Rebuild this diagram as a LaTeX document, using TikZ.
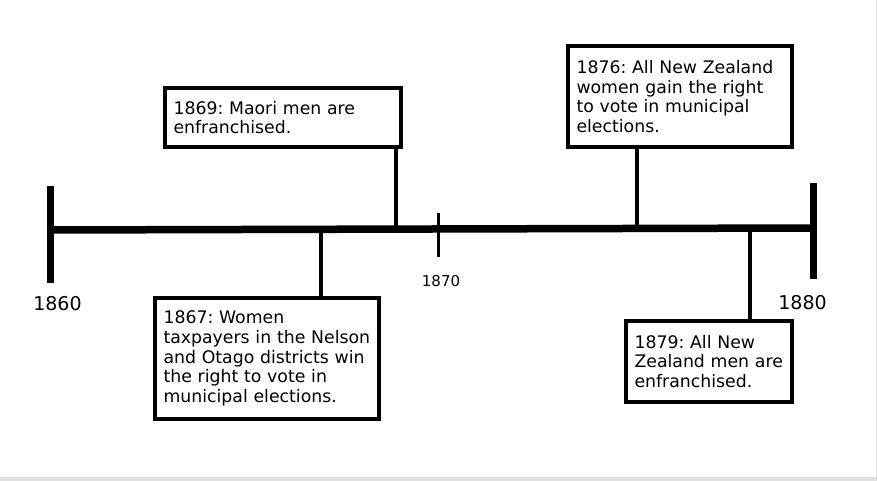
\documentclass[tikz,border=0pt]{standalone}
\usepackage{fontspec}
\setmainfont{DejaVu Sans}
\frenchspacing
\begin{document}
\begin{tikzpicture}[x=1pt,y=-1pt,
  eventbox/.style={draw, line width=3.3pt, inner xsep=8.5pt, inner ysep=0pt,
    align=left, font=\fontsize{17.3}{19.7}\selectfont, anchor=center},
  conn/.style={line width=3.5pt},
  yearlab/.style={font=\fontsize{19}{21}\selectfont, inner sep=0pt},
  smalllab/.style={font=\fontsize{15}{17}\selectfont, inner sep=0pt}]
\useasboundingbox (0,0) rectangle (877,481);
\fill[white] (0,0) rectangle (877,481);
\fill[black!12] (0,477) rectangle (877,481);
\fill[black!12] (876,0) rectangle (877,481);

% main axis
\coordinate (L) at (50.3,230);
\coordinate (R) at (813,228);
\draw[line width=7.5pt] (L) -- (R);
\draw[line width=7pt] (50.3,186) -- (50.3,283);
\draw[line width=7pt] (813,183) -- (813,279);
\draw[line width=3pt] (438,213) -- (438,257);

% year labels
\node[yearlab] (y60) at (57.5,304) {1860};
\node[yearlab] (y80) at (802.5,303) {1880};
\node[smalllab] (y70) at (441,281) {1870};

% points on the axis
\coordinate (m67) at (321,230);
\coordinate (m69) at (396,229);
\coordinate (m76) at (637,228);
\coordinate (m79) at (750,228);

% boxes
\node[eventbox, minimum width=236pt, minimum height=59pt, text width=219pt] (b69) at (283,117.5)
  {1869: Maori men are\\enfranchised.};
\node[eventbox, minimum width=224pt, minimum height=101pt, text width=207pt] (b76) at (680,96.5)
  {1876: All New Zealand\\women gain the right\\to vote in municipal\\elections.};
\node[eventbox, minimum width=224pt, minimum height=121pt, text width=207pt] (b67) at (267,358.5)
  {1867: Women\\taxpayers in the Nelson\\and Otago districts win\\the right to vote in\\municipal elections.};
\node[eventbox, minimum width=166pt, minimum height=81pt, text width=149pt] (b79) at (709,361.5)
  {1879: All New\\Zealand men are\\enfranchised.};

% connectors
\draw[conn] (m67) -- (b67.north -| m67);
\draw[conn] (b69.south -| m69) -- (m69);
\draw[conn] (b76.south -| m76) -- (m76);
\draw[conn] (m79) -- (b79.north -| m79);
\end{tikzpicture}
\end{document}
